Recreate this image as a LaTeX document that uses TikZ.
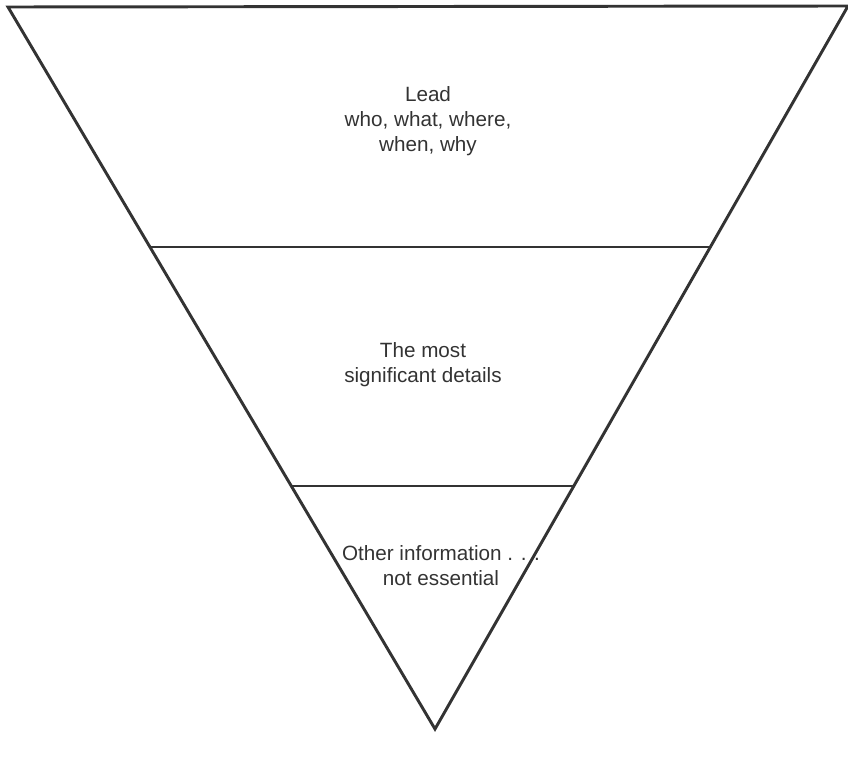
\documentclass[tikz,border=0pt]{standalone}
\usepackage{fontspec}
\setmainfont{Liberation Sans}
\usepackage{xcolor}
\definecolor{tinta}{HTML}{333333}

\begin{document}
\begin{tikzpicture}[
  x=0.75pt, y=-0.75pt,
  borde/.style={draw=tinta, line width=2.2pt, line join=miter},
  corte/.style={draw=tinta, line width=2pt},
  txt/.style={align=center, text=tinta, font=\fontsize{15.5}{18.8}\selectfont},
]
\useasboundingbox (0,0) rectangle (848,756);

% --- Piramide invertida ---
\coordinate (tl) at (8,7);
\coordinate (tr) at (848,6);
\coordinate (apex) at (435,729);
\draw[borde] (tl) -- (tr) -- (apex) -- cycle;

% --- Divisiones ---
\coordinate (c1l) at (150,247);
\coordinate (c1r) at (710,247);
\coordinate (c2l) at (292,486);
\coordinate (c2r) at (574,486);
\draw[corte] (c1l) -- (c1r);
\draw[corte] (c2l) -- (c2r);

% --- Textos ---
\node[txt] (lead) at (428,121) {Lead\\who, what, where,\\when, why};
\node[txt] (detalles) at (423,365) {The most\\significant details};
\node[txt] (otros) at (441,566) {Other information . . .\\not essential};

\end{tikzpicture}
\end{document}
